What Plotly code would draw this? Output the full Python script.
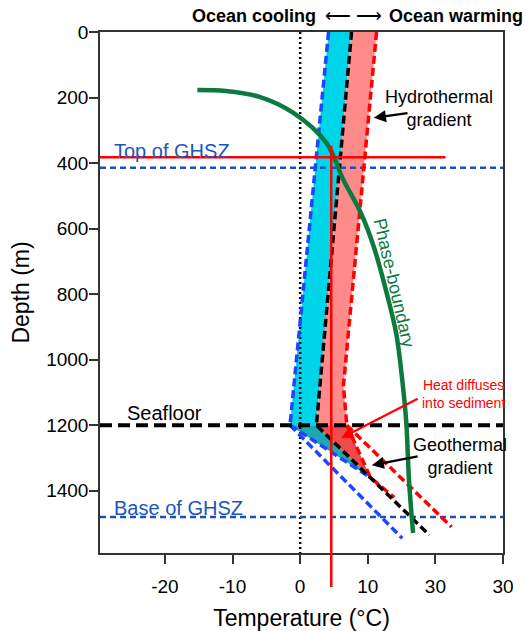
import plotly.graph_objects as go

# ---------------- data ----------------
# temperature (degC) vs depth (m)
cool_T = [4.2, -1.5]            # ocean-cooling profile (water column)
cool_D = [0, 1200]
geo_T = [7.6, 2.4, 19.1]        # present profile + geothermal gradient
geo_D = [0, 1200, 1535]
warm_T = [11.3, 6.4, 6.9]       # ocean-warming profile (water column)
warm_D = [0, 1080, 1200]

cool_sed_T = [-1.5, 15.1]       # shifted geotherm, cooling
cool_sed_D = [1200, 1545]
warm_sed_T = [6.9, 22.4]        # shifted geotherm, warming
warm_sed_D = [1200, 1511]
cool_conv_T = [-1.5, 10.4]      # cooling transient converging to geotherm
cool_conv_D = [1200, 1360]
warm_conv_T = [6.9, 10.4, 13.9] # warming transient converging to geotherm
warm_conv_D = [1200, 1360, 1420]

phase_T = [-15.2, -11.0, -6.0, -1.0, 3.9, 6.4, 9.0, 10.9, 12.8, 14.2, 15.1, 15.7, 16.1, 16.7]
phase_D = [177, 180, 198, 247, 339, 452, 553, 656, 797, 919, 1062, 1193, 1368, 1529]

seafloor_D = 1200
top_ghsz_D = 414
base_ghsz_D = 1480
cross_T = 4.6        # red cross-hair (intersection)
cross_D = 382
cross_T_max = 21.5
cross_D_top = 348
cross_D_bottom = 1694

x_range = [-29.6, 30]
y_range = [1590, 0]
x_ticks = [-20, -10, 0, 10, 20, 30]
x_ticktext = ["-20", "-10", "0", "10", "30", "30"]
y_ticks = [0, 200, 400, 600, 800, 1000, 1200, 1400]

FONT = "Arial, Liberation Sans, sans-serif"
CYAN = "#00d4e8"
PINK = "#ff8a8a"
TEAL = "#1ea8b4"
DRED = "#f24a4a"
BLUE = "#1f46ff"
GBLUE = "#1a52b8"
GREEN = "#0b7a3e"

fig = go.Figure()

def poly(xs, ys, color):
    fig.add_trace(go.Scatter(x=xs, y=ys, mode="lines", fill="toself",
                             fillcolor=color, line=dict(width=0),
                             hoverinfo="skip", showlegend=False))

def line(xs, ys, color, width, dash="solid", shape="linear"):
    fig.add_trace(go.Scatter(x=xs, y=ys, mode="lines",
                             line=dict(color=color, width=width, dash=dash, shape=shape),
                             hoverinfo="skip", showlegend=False))

# fills
poly([cool_T[0], geo_T[0], geo_T[1], cool_T[1]],
     [cool_D[0], geo_D[0], geo_D[1], cool_D[1]], CYAN)
poly([geo_T[0], warm_T[0], warm_T[1], warm_T[2], geo_T[1]],
     [geo_D[0], warm_D[0], warm_D[1], warm_D[2], geo_D[1]], PINK)
poly([cool_conv_T[0], geo_T[1], cool_conv_T[1]],
     [cool_conv_D[0], geo_D[1], cool_conv_D[1]], TEAL)
poly([geo_T[1], warm_conv_T[0], warm_conv_T[1]],
     [geo_D[1], warm_conv_D[0], warm_conv_D[1]], DRED)

# reference lines
xr = x_range
line([0, 0], [y_range[1], y_range[0]], "black", 2.5, "2px,3px")
line(xr, [top_ghsz_D, top_ghsz_D], GBLUE, 2.5, "6px,4px")
line(xr, [base_ghsz_D, base_ghsz_D], GBLUE, 2.5, "6px,4px")

# profiles
line(cool_T, cool_D, BLUE, 3.5, "8px,4px")
line(cool_sed_T, cool_sed_D, BLUE, 3.5, "8px,4px")
line(cool_conv_T, cool_conv_D, BLUE, 3.5, "8px,4px")
line(warm_T, warm_D, "red", 3.5, "8px,4px")
line(warm_sed_T, warm_sed_D, "red", 3.5, "8px,4px")
line(warm_conv_T, warm_conv_D, "red", 3.5, "8px,4px")
line(geo_T, geo_D, "black", 3.5, "8px,4px")
line(xr, [seafloor_D, seafloor_D], "black", 4, "12px,6px")

# phase boundary
line(phase_T, phase_D, GREEN, 4.5, shape="spline")

# red cross-hair
line([xr[0], cross_T_max], [cross_D, cross_D], "red", 2.5)
ymin, ymax = y_range[1], y_range[0]
def paper_y(d):
    return 1 - (d - ymin) / (ymax - ymin)
fig.add_shape(type="line", xref="x", yref="paper",
              x0=cross_T, x1=cross_T, y0=paper_y(cross_D_top), y1=paper_y(cross_D_bottom),
              line=dict(color="red", width=2.5), layer="above")

# labels
def label(text, x, y, color="black", size=18, angle=0, xanchor="center"):
    fig.add_annotation(x=x, y=y, xref="x", yref="y", text=text, showarrow=False,
                       font=dict(family=FONT, size=size, color=color),
                       textangle=angle, xanchor=xanchor, yanchor="middle")

label("Top of GHSZ", -27.8, 362, "#1a55c0", 20, xanchor="left")
label("Base of GHSZ", -27.8, 1452, "#1a55c0", 20, xanchor="left")
label("Seafloor", -20.0, 1162, "black", 20)
label("Hydrothermal<br>gradient", 20.6, 232, "black", 18)
label("Geothermal<br>gradient", 23.6, 1294, "black", 18)
label("Heat diffuses<br>into sediment", 24.2, 1104, "red", 14)
label("Phase-boundary", 13.9, 766, GREEN, 18, angle=77)

def arrow(x, y, ax, ay, color):
    fig.add_annotation(x=x, y=y, ax=ax, ay=ay, xref="x", yref="y",
                       axref="x", ayref="y", text="", showarrow=True,
                       arrowhead=2, arrowsize=1.1, arrowwidth=2.2, arrowcolor=color)

arrow(10.9, 262, 16.1, 247, "black")
arrow(10.6, 1322, 17.6, 1294, "black")
arrow(6.1, 1239, 17.6, 1117, "red")

# header
hdr_font = dict(family=FONT, size=18, color="black")
fig.add_annotation(x=2.7, y=1.031, xref="x", yref="paper", text="<b>Ocean cooling</b>",
                   showarrow=False, xanchor="right", yanchor="middle", font=hdr_font)
fig.add_annotation(x=7.9, y=1.031, xref="x", yref="paper", text="⟵ ⟶",
                   showarrow=False, xanchor="center", yanchor="middle", font=hdr_font)
fig.add_annotation(x=12.9, y=1.031, xref="x", yref="paper", text="<b>Ocean warming</b>",
                   showarrow=False, xanchor="left", yanchor="middle", font=hdr_font)

axis_common = dict(showline=True, linecolor="#333", linewidth=1.5, mirror=True,
                   ticks="outside", ticklen=9, tickwidth=1.5, tickcolor="#333",
                   showgrid=False, zeroline=False, automargin=False,
                   tickfont=dict(family=FONT, size=19, color="black"))

fig.update_layout(
    width=526, height=631,
    margin=dict(l=100, r=23, t=32, b=78),
    plot_bgcolor="white", paper_bgcolor="white",
    font=dict(family=FONT, color="black"),
    xaxis=dict(range=x_range, tickvals=x_ticks, ticktext=x_ticktext,
               title=dict(text="Temperature (°C)", font=dict(family=FONT, size=23), standoff=14),
               ticklabelstandoff=6, **axis_common),
    yaxis=dict(range=y_range, tickvals=y_ticks,
               title=dict(text="Depth (m)", font=dict(family=FONT, size=23), standoff=10),
               ticklabelstandoff=-3, **axis_common),
)

fig.write_html("out.html")
